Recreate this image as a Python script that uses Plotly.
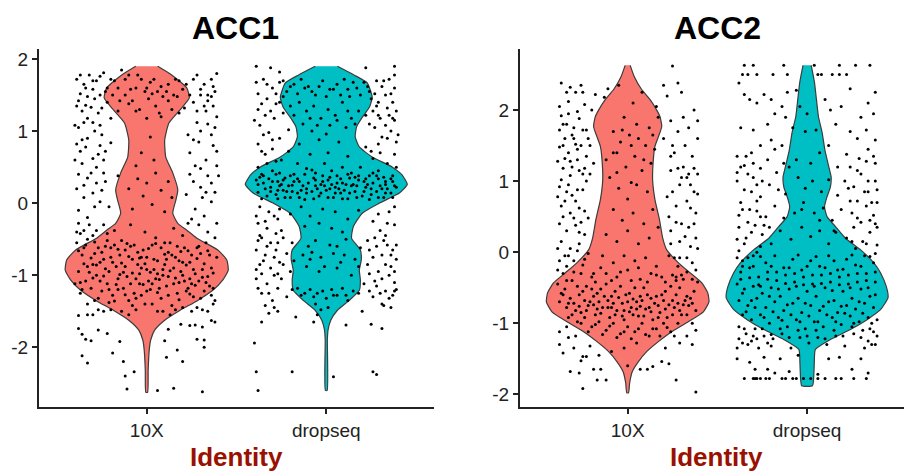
import plotly.graph_objects as go

GROUPS = ["10X", "dropseq"]
COLORS = ["#F8766D", "#00BFC4"]
Y_TICKS = [-2, -1, 0, 1, 2]
Y_LABELS = ["-2", "-1", "0", "1", "2"]

# violin outlines: y level, half width (in category units)
V1A_Y = [1.90,1.78,1.60,1.46,1.29,1.11,.875,.64,.42,.18,.04,-.14,-.28,-.375,-.486,-.65,-.79,-.93,-1.07,-1.21,-1.35,-1.49,-1.625,-1.76,-1.90,-2.04,-2.32,-2.625]
V1A_W = [.061,.139,.223,.237,.184,.123,.100,.106,.145,.173,.162,.145,.173,.223,.279,.396,.446,.454,.423,.368,.284,.184,.100,.045,.022,.014,.008,.005]
V1B_Y = [1.90,1.78,1.67,1.47,1.33,1.19,1.06,.92,.78,.64,.5,.39,.26,.14,0,-.14,-.33,-.49,-.65,-.79,-.93,-1.07,-1.21,-1.35,-1.49,-1.625,-1.76,-1.9,-2.6]
V1B_W = [.062,.154,.228,.256,.24,.2,.169,.161,.184,.256,.368,.423,.451,.407,.295,.2,.15,.141,.19,.195,.184,.19,.184,.128,.061,.025,.01,.006,.005]
V2A_Y = [2.63,2.47,2.29,2.15,2.0,1.91,1.77,1.63,1.49,1.30,1.02,.74,.46,.2,.035,-.15,-.29,-.43,-.57,-.70,-.84,-.98,-1.12,-1.26,-1.40,-1.54,-1.68,-1.84,-1.98]
V2A_W = [.014,.037,.078,.124,.162,.18,.19,.172,.152,.143,.139,.152,.177,.195,.217,.283,.347,.412,.446,.453,.422,.338,.245,.171,.106,.06,.026,.011,.005]
V2B_Y = [2.63,2.39,2.15,1.91,1.68,1.44,1.2,1.06,.92,.78,.64,.5,.36,.2,.035,-.15,-.29,-.49,-.64,-.81,-.95,-1.09,-1.23,-1.37,-1.56,-1.75,-1.88]
V2B_W = [.023,.041,.052,.063,.084,.099,.121,.134,.13,.111,.097,.111,.158,.212,.297,.372,.409,.442,.451,.409,.334,.241,.13,.046,.04,.037,.03]

# cells: jitter offset and expression, in hundredths
P1A = [(-38,-174),(-36,-182),(-34,-189),(-31,-191),(-36,-212),(-33,-222),(-22,-181),(-19,-208),(-15,-192),(-13,-220),(-12,-240),(-7,-234),(-11,-258),(6,-260),(15,-257),(31,-262),(20,-220),(11,-214),(17,-204),(10,-191),(28,-189),(32,-200),(32,-190),(12,-175),(19,-168),(24,-170),(27,-169),(31,-172),(36,-163),(38,-165),(-38,-156),(-27,-176),
(-39,172),(-35,165),(-32,178),(-28,170),(-24,181),(-37,152),(-33,148),(-30,158),(-26,150),(-22,160),(-39,135),(-36,128),(-31,133),(-27,125),(-22,140),(-18,170),(-14,185),(-10,178),(-6,160),(-3,172),(2,168),(6,155),(-12,150),(-8,142),(-4,130),(1,145),(5,135),(9,148),(12,165),(16,172),(20,158),(24,150),(28,178),(32,165),(36,172),(39,180),(26,140),(30,150),(34,142),(38,155),(33,128),(37,135),(39,120),(14,130),(-16,128),(-20,118),(0,118),(8,120),(18,125),(-35,112),(-38,105),(-29,100),
(-25,95),(-39,82),(-34,78),(-30,62),(-36,55),(-27,68),(-23,72),(-20,84),(-38,40),(-33,35),(-28,28),(-24,42),(-39,20),(-35,8),(-30,14),(-26,2),(-21,-5),(-16,38),(-10,20),(-5,34),(0,28),(5,42),(8,18),(12,30),(14,8),(-8,-8),(-2,10),(3,-2),(10,-12),(-3,70),(2,92),(-6,52),(4,60),(22,12),(26,30),(30,22),(34,38),(38,15),(24,70),(29,85),(33,60),(36,95),(39,72),(27,-8),(32,-18),(36,2),(39,-28),(-38,-28),(-33,-20),(-28,-38),(-22,-42),
(-39,-55),(-36,-72),(-33,-50),(-30,-85),(-27,-62),(-24,-78),(-21,-95),(-18,-58),(-15,-72),(-12,-88),(-9,-60),(-6,-105),(-3,-75),(0,-92),(3,-58),(6,-80),(9,-100),(12,-68),(15,-90),(18,-110),(21,-62),(24,-82),(27,-98),(30,-70),(33,-55),(36,-90),(39,-75),(-38,-95),(-34,-108),(-31,-118),(-28,-100),(-25,-122),(-22,-112),(-19,-128),(-16,-105),(-13,-118),(-10,-135),(-7,-125),(-4,-112),(-1,-140),(2,-120),(5,-105),(8,-132),(11,-115),(14,-142),(17,-125),(20,-100),(23,-118),(26,-130),(29,-108),(32,-122),(35,-115),(38,-135),(-37,-125),(-33,-140),(-29,-135),(-24,-150),(-20,-148),(-17,-88),(-14,-52),(-11,-102),(-8,-78),(-5,-85),(-2,-65),(1,-108),(4,-92),(7,-118),(10,-85),(13,-55),(16,-75),(19,-95),(22,-122),(25,-72),(28,-62),(31,-92),(34,-102),(37,-118),(-26,-82),(-23,-60),(-29,-70),(-20,-75),(-12,-65),(-4,-98),(0,-75),(6,-98),(12,-102),(18,-80),(24,-105),(-35,-62),(-16,-120),(9,-150),(3,-140),(-6,-148),(16,-148),(28,-145),(34,-150),(-40,-112),(-30,-155),(-10,-155),
(-37,-42),(-18,-38),(-9,-30),(5,-48),(15,-35),(20,-45),(-1,-40),(10,-55),
(-38,-66),(-35,-84),(-32,-96),(-29,-54),(-26,-108),(-23,-91),(-20,-62),(-17,-113),(-14,-83),(-11,-56),(-8,-97),(-5,-68),(-2,-113),(1,-63),(4,-78),(7,-106),(10,-71),(13,-94),(16,-104),(19,-67),(22,-86),(25,-112),(28,-77),(31,-103),(34,-66),(37,-97),(-37,-110),(-33,-88),(-30,-104),(-27,-132),(-24,-101),(-21,-120),(-18,-136),(-15,-99),(-12,-127),(-9,-112),(-6,-132),(-3,-90),(0,-122),(3,-112),(6,-124),(9,-92),(12,-128),(15,-112),(18,-134),(21,-108),(24,-126),(27,-114),(30,-132),(33,-110),(36,-128),(-34,-58),(-31,-76),(-28,-86),(-25,-68),(-22,-52),(-19,-82),(-16,-64),(-13,-96),(-10,-74),(-7,-58),(-4,-76),(-1,-84),(2,-96),(5,-56),(8,-62),(11,-78),(14,-72),(17,-60),(20,-82),(23,-66),(26,-92),(29,-60),(32,-84),(35,-72),
(-37,178),(-34,160),(-30,170),(-26,176),(-23,155),(-20,172),(-16,160),(-12,172),(-9,158),(-5,178),(0,160),(4,172),(8,162),(11,155),(15,150),(18,170),(22,165),(26,172),(30,158),(34,150),(37,162),(-38,142),(-34,136),(-29,145),(-25,132),(-19,150),(-15,142),(-10,138),(-6,128),(-1,155),(3,152),(7,125),(12,142),(17,148),(21,132),(28,128),(32,135),(36,148),
(-36,-120),(-33,-155),(-27,-148),(-21,-138),(-14,-150),(-8,-142),(-3,-128),(6,-150),(13,-155),(20,-145),(25,-150),(31,-148),(37,-140),
(-40,60),(-37,72),(-33,90),(-31,42),(-28,50),(-26,80),(-23,30),(-38,-10),(-35,25),(-32,-30),(-29,-5),(-25,18),(-40,108),(-33,118),(-36,88),(-30,112),(-26,108),(-24,60),(-39,-40),(-35,-38),(-30,-45),(-24,-30),
(24,40),(27,52),(30,48),(33,15),(36,28),(39,52),(26,88),(30,100),(34,110),(38,105),(23,95),(28,112),(25,-22),(29,-30),(34,-40),(38,-48),(23,-28),(31,8),(37,80),(40,38)]

P1B = [(-40,-194),(-39,-234),(-38,-260),(-19,-234),(4,-241),(26,-234),(28,-238),(-36,-165),(-17,-158),(-7,-165),(11,-169),(25,-168),(31,-174),(-32,-153),(20,-150),
(-39,190),(-31,188),(-26,182),(22,188),(38,190),(38,178),(-39,168),(-35,172),(-30,160),(-26,168),(-22,155),(-18,165),(-14,172),(-38,152),(-33,145),(-28,138),(-24,148),(-38,130),(-34,122),(-29,118),(-24,125),(-20,135),(-10,162),(-6,150),(-2,170),(2,158),(6,165),(10,172),(13,148),(17,160),(21,168),(24,155),(28,170),(31,162),(35,172),(38,160),(25,145),(29,140),(33,150),(37,140),(39,128),(35,122),(30,118),(26,128),(-15,140),(-11,128),(-7,135),(-3,118),(1,130),(5,122),(9,140),(14,118),(18,128),(-13,110),(-8,100),(2,108),(11,105),(-37,108),(-32,98),(-26,90),(-21,102),(27,105),(31,92),(36,100),(39,85),
(-38,82),(-34,68),(-30,75),(-25,60),(-21,72),(-15,82),(-9,68),(-4,88),(1,70),(7,85),(12,65),(22,78),(26,62),(30,70),(34,55),(38,68),(-38,50),(-35,38),(-30,45),(-27,30),(-16,55),(-11,48),(-6,42),(-1,55),(3,45),(9,50),(14,42),(19,50),(24,38),(29,45),(33,30),(37,38),(39,22),
(-39,32),(-35,28),(-31,22),(-27,18),(-23,35),(-19,25),(-15,30),(-11,20),(-7,35),(-3,26),(1,32),(5,22),(9,28),(13,35),(17,24),(21,30),(25,20),(29,34),(33,26),(37,30),(-38,15),(-33,10),(-28,12),(-24,18),(-20,8),(-16,14),(-12,5),(-8,16),(-4,10),(0,18),(4,8),(8,14),(12,6),(16,16),(20,10),(24,5),(28,16),(32,8),(36,14),(-36,40),(-26,42),(-18,40),(-8,46),(6,38),(16,36),(26,42),(-25,26),(-5,20),(-1,24),(3,26),(7,20),(11,26),(-21,24),(-13,24),(15,26),(23,26),(31,20),
(-37,-5),(-32,-12),(-26,-8),(-20,-15),(-14,-5),(-9,-18),(-2,-8),(5,-12),(12,-22),(18,-10),(26,-25),(35,-12),(-38,-28),(-33,-35),(-27,-22),(-12,-32),(-4,-28),(3,-35),(9,-40),(30,-38),(38,-30),(-36,-48),(-31,-55),(-24,-48),(-6,-52),(2,-58),(11,-50),(27,-48),(34,-58),(-39,-65),(-34,-72),(-28,-65),(-22,-70),(-13,-72),(-8,-68),(-3,-75),(4,-70),(10,-72),(16,-78),(24,-65),(31,-72),(37,-65),(-37,-85),(-31,-90),(-26,-82),(-20,-95),(-11,-88),(-4,-95),(6,-90),(14,-100),(23,-85),(29,-95),(36,-88),(-39,-105),(-33,-112),(-25,-105),(-16,-118),(-9,-120),(-2,-122),(3,-120),(9,-118),(15,-122),(21,-112),(28,-115),(33,-122),(38,-110),(39,-120),(-36,-125),(-30,-135),(-22,-130),(-12,-125),(-7,-130),(0,-132),(6,-128),(12,-135),(26,-130),(31,-140),(37,-128),(-34,-142),(-29,-145),(-6,-140),(-3,-148),(1,-145),(32,-142),(36,-145),(-27,-150),(-5,-155),
(-38,26),(-34,20),(-30,30),(-26,24),(-22,16),(-18,30),(-14,18),(-10,28),(-6,24),(-2,30),(2,20),(6,28),(10,18),(14,24),(18,32),(22,22),(26,28),(30,24),(34,20),(38,24),(-36,6),(-31,16),(-27,6),(-23,8),(-19,16),(-15,8),(-11,14),(-7,6),(-3,14),(1,8),(5,14),(9,6),(13,14),(17,8),(21,16),(25,12),(29,8),(33,14),(37,8),(-37,36),(-32,34),(-28,40),(-24,32),(-20,38),(-16,34),(-12,40),(-6,32),(-2,38),(2,36),(8,34),(12,40),(18,38),(22,34),(28,38),(32,36),(36,34),
(-33,165),(-28,152),(-24,170),(-20,162),(-16,152),(-12,160),(-8,155),(-4,162),(0,148),(4,158),(8,150),(12,158),(15,168),(19,150),(23,162),(27,152),(32,170),(36,152),(-36,138),(-31,128),(-26,140),(-18,122),(-9,118),(-5,108),(0,96),(6,115),(12,128),(16,110),(22,122),(28,135),(34,132),(38,115),(-35,-80),(-29,-75),(-24,-85),(-18,-80),(-9,-78),(-1,-88),(8,-82),(18,-88),(26,-75),(33,-85),(39,-78),(-38,-118),(-32,-125),(-27,-118),(-19,-120),(-14,-128),(-5,-125),(4,-128),(11,-128),(18,-125),(24,-122),(30,-125),(35,-132),(38,-122),(-37,-45),(-28,-42),(-19,-55),(-10,-60),(6,-60),(19,-62),(33,-45),
(-40,115),(-35,95),(-30,88),(-36,72),(-28,58),(-33,55),(-39,-18),(-34,-25),(-29,-18),(-25,-38),(-38,-52),(-33,-60),(-27,-55),(-36,-98),(-29,-100),(-39,-92),(-27,-98),(23,-52),(28,-60),(32,-52),(36,-72),(39,-58),(24,-98),(27,-108),(31,-105),(35,-100),(38,-95),(24,110),(29,122),(33,108),(37,118),(40,95),(25,72),(29,82),(34,90),(39,50),(34,-28),(29,-15),(38,-5)]

P2A = [(-25,-192),(38,-197),(27,-180),(-17,-180),(-12,-180),(-19,-165),(-15,-165),(-32,-168),(-27,-170),(7,-165),(11,-165),(14,-161),(19,-154),(23,-157),(0,-160),(-25,-147),(-23,-147),(-26,-153),(-38,-130),(-36,-142),(-33,-120),(-30,-135),(-21,-132),(-16,-145),(-9,-140),(21,-135),(29,-128),(36,-130),(38,-110),(-38,-112),(-34,-105),(-29,-118),(33,-118),(36,-100),(-2,-135),(5,-128),
(-37,238),(-34,225),(-32,232),(-29,225),(-26,235),(-25,225),(-38,205),(-33,212),(-28,198),(-24,208),(-20,200),(-18,222),(-13,218),(-11,230),(-37,192),(-34,180),(-30,175),(-27,188),(-23,172),(-38,172),(-35,160),(-31,165),(-26,150),(-22,160),(-38,148),(-33,140),(-28,130),(-23,135),(-19,125),(-5,235),(-2,190),(3,210),(8,225),(12,175),(16,205),(20,235),(25,262),(28,238),(-8,170),(-4,155),(1,165),(5,180),(10,150),(14,165),(17,190),(-12,130),(-6,140),(-1,120),(4,135),(8,115),(13,125),(20,160),(24,185),(28,170),(31,190),(34,175),(37,200),(39,185),(22,220),(30,225),(26,140),(32,150),(36,135),(39,160),
(-36,118),(-32,108),(-27,115),(-23,100),(-38,92),(-34,85),(-29,72),(-25,88),(-21,110),(-37,65),(-32,55),(-27,62),(-22,48),(-38,40),(-34,30),(-29,38),(-24,25),(-37,15),(-32,5),(-27,12),(-22,-2),(-38,-12),(-34,-20),(-30,-28),(-25,-18),(-20,-35),(-10,105),(-5,90),(0,75),(5,95),(11,85),(-8,60),(-3,45),(3,55),(9,40),(14,60),(-12,25),(-6,15),(0,30),(6,12),(12,20),(17,35),(24,115),(30,105),(35,95),(39,110),(22,78),(27,65),(33,72),(38,55),(24,30),(29,15),(34,35),(38,20),(23,-5),(28,-20),(33,-8),(38,-25),
(-14,-5),(-8,-15),(-2,-5),(4,-12),(10,-8),(16,-20),(-18,-42),(-12,-30),(-6,-35),(0,-25),(7,-38),(13,-30),(19,-35),(25,-32),(-39,-45),(-35,-52),(-31,-40),(-27,-60),(-23,-48),(-19,-62),(-15,-52),(-11,-68),(-7,-55),(-3,-72),(1,-58),(5,-70),(9,-50),(13,-65),(17,-75),(21,-55),(25,-68),(29,-50),(33,-62),(37,-55),(-38,-70),(-34,-78),(-30,-72),(-26,-85),(-22,-75),(-18,-88),(-14,-78),(-10,-92),(-6,-82),(-2,-95),(2,-78),(6,-90),(10,-80),(14,-95),(18,-85),(22,-92),(26,-78),(30,-88),(34,-75),(38,-82),(-36,-60),(-32,-65),(-28,-48),(-24,-68),(-20,-52),(-16,-70),(-12,-45),(-8,-72),(-4,-48),(0,-70),(4,-50),(8,-68),(12,-78),(16,-62),(20,-68),(24,-48),(28,-72),(32,-68),(36,-72),(-33,-92),(-28,-98),(-24,-92),(-20,-105),(-16,-98),(-12,-110),(-8,-100),(-4,-115),(0,-105),(4,-112),(8,-100),(12,-118),(16,-108),(20,-100),(24,-112),(28,-100),(-2,-82),(3,-88),(7,-62),(-9,-62),(-17,-80),
(-37,-58),(-33,-72),(-29,-82),(-25,-55),(-21,-70),(-17,-58),(-13,-62),(-9,-78),(-5,-64),(-1,-60),(3,-66),(7,-76),(11,-60),(15,-72),(19,-60),(23,-74),(27,-60),(31,-74),(35,-65),(-31,-88),(-27,-76),(-23,-82),(-19,-74),(-15,-86),(-11,-78),(-7,-88),(-3,-90),(1,-84),(5,-80),(9,-90),(13,-84),(17,-92),(21,-80),(25,-88),(29,-82),(33,-88),(-26,-100),(-22,-112),(-18,-102),(-14,-116),(-10,-104),(-6,-120),(-2,-112),(2,-122),(6,-108),(10,-116),(14,-108),(18,-118),(22,-106),(26,-118),(-19,-30),(-15,-22),(-9,-40),(-4,-28),(2,-40),(6,-22),(11,-42),(16,-32),(21,-42),(27,-40),(31,-38),
(-36,180),(-33,195),(-30,160),(-28,145),(-25,172),(-21,150),(-35,132),(-31,120),(-25,110),(-37,102),(-33,95),(-28,88),(-35,72),(-30,48),(-26,42),(-36,-30),(-33,-5),(-28,2),(-24,-10),(-8,140),(-3,172),(2,150),(6,160),(-6,112),(2,98),(9,130),(15,145),(25,150),(31,120),(34,110),(37,85),(30,40),(35,8),(26,-8),(30,-32),(36,-38),
(-39,128),(-36,150),(-32,128),(-29,152),(-24,118),(-39,78),(-36,50),(-31,80),(-27,28),(-24,58),(-39,5),(-35,-5),(-30,-12),(-26,-30),(-39,-25),(-34,-40),(24,135),(28,118),(33,105),(37,118),(29,95),(25,85),(35,62),(39,82),(23,50),(27,42),(32,22),(37,40),(39,5),(24,12),(29,-8),(36,-15),(27,-35),(33,-28),(39,-42)]

P2B = [(-35,263),(-30,263),(-13,263),(4,263),(18,263),(27,263),(35,263),(-36,250),(-33,250),(-28,250),(-19,250),(-11,250),(6,250),(8,250),(14,250),(18,250),(22,250),
(-38,238),(-35,222),(-32,215),(-28,210),(-24,222),(-20,215),(-14,205),(-11,225),(-6,228),(10,215),(13,200),(19,205),(24,230),(38,225),(30,190),(34,210),(37,195),(-22,180),(-18,195),(-12,190),(-4,205),(-37,175),(-30,172),(-8,175),(0,195),(-1,170),(5,172),(-26,150),(-20,158),(-14,150),(16,180),(24,170),(28,160),(33,172),(38,158),(-39,135),(-35,122),(-31,140),(-26,118),(-22,130),(-18,145),(-13,125),(-6,130),(2,125),(7,140),(12,150),(17,120),(22,138),(29,132),(34,145),(38,125),
(-39,100),(-35,88),(-30,105),(-26,78),(-21,95),(-17,112),(-12,82),(-5,105),(-1,90),(3,100),(8,85),(12,102),(17,80),(21,100),(26,92),(30,110),(34,85),(38,100),(-37,70),(-32,60),(-28,72),(-23,50),(-18,65),(-13,48),(-7,55),(-2,70),(4,55),(9,62),(14,45),(19,60),(24,72),(28,48),(33,65),(37,52),(39,70),(-38,35),(-34,20),(-29,38),(-25,25),(-20,12),(-15,30),(-9,18),(-3,35),(2,22),(7,30),(12,12),(16,28),(22,20),(26,35),(31,15),(35,28),(39,10),
(-38,2),(-33,-8),(-28,0),(-23,-15),(-18,-5),(-13,-22),(-8,-10),(-3,-25),(2,-12),(7,-20),(12,-5),(17,-25),(22,-10),(27,-18),(32,-5),(37,-15),(-37,-28),(-32,-22),(-27,-35),(-22,-28),(-17,-40),(-12,-32),(-7,-42),(-2,-35),(3,-45),(8,-32),(13,-42),(18,-35),(23,-45),(28,-30),(33,-40),(38,-28),(-39,-45),(-35,-52),(-30,-48),(-25,-58),(-20,-50),(-15,-62),(-10,-52),(-5,-65),(0,-55),(5,-62),(10,-50),(15,-68),(20,-55),(25,-65),(30,-52),(35,-62),(-38,-68),(-33,-75),(-28,-65),(-23,-78),(-18,-70),(-13,-82),(-8,-72),(-3,-85),(2,-75),(7,-82),(12,-70),(17,-85),(22,-75),(27,-80),(32,-72),(37,-78),(-36,-88),(-31,-95),(-26,-88),(-21,-100),(-16,-92),(-11,-105),(-6,-95),(-1,-108),(4,-98),(9,-105),(14,-92),(19,-102),(24,-90),(29,-98),(34,-92),(39,-95),(-38,-105),(-34,-115),(-29,-108),(-24,-118),(-19,-122),(-14,-115),(-4,-120),(1,-128),(6,-120),(16,-118),(26,-115),(31,-110),(37,-112),(-39,-135),(-33,-130),(-27,-135),(-20,-132),(-9,-135),(11,-130),(21,-132),(32,-135),(38,-130),
(-39,-150),(-32,-155),(-24,-148),(-15,-150),(-5,-145),(12,-150),(18,-148),(30,-150),(-29,-165),(-22,-165),(-18,-170),(-10,-168),(6,-172),(25,-165),(34,-170),
(-35,-178),(-30,-178),(-29,-178),(-28,-178),(-26,-178),(-23,-178),(-21,-178),(-14,-178),(-12,-178),(-8,-178),(-6,-178),(-2,-178),(2,-178),(6,-178),(10,-178),(16,-178),(19,-178),(26,-178),(33,-178),
(-36,-58),(-31,-68),(-26,-48),(-21,-62),(-16,-52),(-11,-74),(-6,-48),(-1,-72),(4,-48),(9,-76),(14,-54),(19,-76),(24,-50),(29,-70),(34,-50),(38,-60),(-34,-84),(-29,-78),(-24,-92),(-19,-84),(-14,-96),(-9,-88),(-4,-98),(1,-90),(6,-98),(11,-88),(16,-98),(21,-86),(26,-100),(31,-86),(36,-100),(-37,-38),(-32,-36),(-27,-46),(-22,-38),(-17,-28),(-12,-44),(-7,-30),(-2,-46),(3,-32),(8,-44),(13,-30),(18,-46),(23,-32),(28,-42),(33,-30),(38,-42),(-35,-108),(-30,-118),(-25,-108),(-20,-116),(-15,-108),(-10,-120),(-5,-110),(0,-118),(5,-110),(10,-122),(15,-110),(20,-118),(25,-105),(30,-120),(35,-108),(-36,-12),(-30,-20),(-26,-6),(-20,-20),(-10,-22),(-5,-4),(0,-20),(5,-6),(10,-22),(15,-12),(20,-24),(25,-4),(30,-20),(35,-6),(-38,-122),(-36,-128),(-31,-125),(-28,-122),(-22,-128),(34,-125),(36,-130),(39,-118),
(-37,120),(-33,110),(-28,95),(-36,60),(-31,85),(-26,50),(-21,35),(-35,12),(-30,-5),(-16,88),(-10,120),(-3,60),(7,45),(15,30),(25,55),(32,85),(36,70),(38,40),
(-39,112),(-34,135),(-30,125),(-25,100),(-38,52),(-33,42),(-28,58),(-24,38),(-39,18),(-31,28),(-26,8),(-36,-20),(-39,-8),(24,120),(28,115),(33,128),(37,135),(23,90),(28,72),(34,100),(39,88),(25,15),(30,42),(35,45),(39,35),(27,5),(33,12),(38,-2)]

XA1, YA1 = zip(*P1A)
XB1, YB1 = zip(*P1B)
XA2, YA2 = zip(*P2A)
XB2, YB2 = zip(*P2B)


def violin(fig, center, ys, ws, color, xa, ya):
    xs = [center - w for w in ws] + [center + w for w in reversed(ws)]
    yy = list(ys) + list(reversed(ys))
    fig.add_trace(go.Scatter(x=xs, y=yy, mode="lines", fill="toself", fillcolor=color,
                             line=dict(color="#3c3c3c", width=1.2, shape="spline", smoothing=0.5),
                             xaxis=xa, yaxis=ya, hoverinfo="skip", showlegend=False))


def dots(fig, center, xs, ys, xa, ya):
    fig.add_trace(go.Scatter(x=[center + v / 100 for v in xs], y=[v / 100 for v in ys], mode="markers",
                             marker=dict(color="black", size=3), xaxis=xa, yaxis=ya,
                             hoverinfo="skip", showlegend=False))


fig = go.Figure()
violin(fig, 1, V1A_Y, V1A_W, COLORS[0], "x", "y")
violin(fig, 2, V1B_Y, V1B_W, COLORS[1], "x", "y")
dots(fig, 1, XA1, YA1, "x", "y")
dots(fig, 2, XB1, YB1, "x", "y")
violin(fig, 1, V2A_Y, V2A_W, COLORS[0], "x2", "y2")
violin(fig, 2, V2B_Y, V2B_W, COLORS[1], "x2", "y2")
dots(fig, 1, XA2, YA2, "x2", "y2")
dots(fig, 2, XB2, YB2, "x2", "y2")

FONT = "Liberation Sans, Arial, sans-serif"
tick = dict(color="#222222", size=19, family=FONT)
axis = dict(showgrid=False, zeroline=False, showline=True, linecolor="#222222", linewidth=2,
            ticks="outside", ticklen=5, tickwidth=1.5, tickcolor="#222222", tickfont=tick)
x_common = dict(axis, tickvals=[1, 2], ticktext=GROUPS)
y_common = dict(axis, tickvals=Y_TICKS, ticktext=Y_LABELS)
W, H = 904, 472
fig.update_layout(
    width=W, height=H, autosize=False, margin=dict(l=0, r=0, t=0, b=0),
    paper_bgcolor="white", plot_bgcolor="white", showlegend=False,
    xaxis=dict(x_common, domain=[39 / W, 434 / W], range=[0.4, 2.6], anchor="y"),
    yaxis=dict(y_common, domain=[(H - 407) / H, (H - 49) / H], range=[-2.83, 2.14], anchor="x"),
    xaxis2=dict(x_common, domain=[520 / W, 1], range=[0.4, 2.54], anchor="y2"),
    yaxis2=dict(y_common, domain=[(H - 407) / H, (H - 49) / H], range=[-2.18, 2.86], anchor="x2"),
    annotations=[
        dict(text=f"<b>{t}</b>", x=px / W, y=(H - py) / H, xref="paper", yref="paper", showarrow=False,
             xanchor="center", yanchor="middle", font=dict(family=FONT, size=s, color=c))
        for t, px, py, s, c in [
            ("ACC1", 235, 28, 32, "#000000"),
            ("ACC2", 717, 28, 32, "#000000"),
            ("Identity", 236, 457, 26, "#991100"),
            ("Identity", 716, 457, 26, "#991100"),
        ]
    ],
)
fig.write_html("out.html", post_script="document.body.style.margin='0';", config={"displayModeBar": False})
